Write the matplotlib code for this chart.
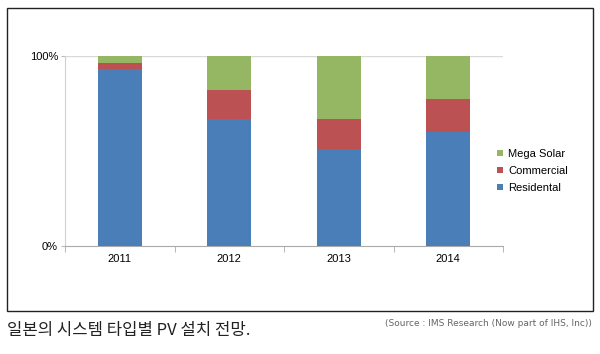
import matplotlib
matplotlib.use("Agg")
import matplotlib.pyplot as plt
from matplotlib.patches import Rectangle
import numpy as np

years = ["2011", "2012", "2013", "2014"]
residential = [93.0, 67.0, 51.0, 59.8]
commercial = [3.5, 15.0, 16.0, 17.7]
mega_solar = [3.5, 18.0, 33.0, 22.5]
series_names = ["Residental", "Commercial", "Mega Solar"]
colors = ["#4a7eb8", "#bb5152", "#95b763"]

fig = plt.figure(figsize=(6.0, 3.54), dpi=100)
W, H = 600, 354

# outer frame
fig.patches.append(Rectangle((7 / W, 1 - 311 / H), 586 / W, (311 - 8) / H,
                             transform=fig.transFigure, fill=False,
                             edgecolor="#222222", linewidth=1.0))

ax = fig.add_axes([65 / W, 1 - 246 / H, (503 - 65) / W, (246 - 56) / H])
x = np.arange(len(years))
bottom = np.zeros(len(years))
handles = []
for vals, name, c in zip([residential, commercial, mega_solar], series_names, colors):
    b = ax.bar(x, vals, width=0.4, bottom=bottom, color=c, label=name, zorder=3)
    handles.append(b)
    bottom += np.array(vals)

ax.set_xlim(-0.5, len(years) - 0.5)
ax.set_ylim(0, 100)
ax.set_yticks([0, 100])
ax.set_yticklabels(["0%", "100%"], fontsize=8, family="Liberation Sans")
ax.set_xticks(x)
ax.set_xticklabels(years, fontsize=8, family="Liberation Sans")
ax.tick_params(axis="x", length=0, pad=6)
ax.tick_params(axis="y", length=3, color="#bbbbbb", pad=2)
ax.set_xticks(np.arange(len(years) + 1) - 0.5, minor=True)
ax.tick_params(axis="x", which="minor", length=4, color="#aaaaaa")
ax.axhline(100, color="#d9d9d9", linewidth=1.0, zorder=1)
for s in ["top", "right"]:
    ax.spines[s].set_visible(False)
ax.spines["left"].set_color("#d0d0d0")
ax.spines["bottom"].set_color("#aaaaaa")

leg = fig.legend(handles[::-1], series_names[::-1], loc="upper left",
                 bbox_to_anchor=(487 / W, 1 - 139 / H), frameon=False,
                 prop={"family": "Liberation Sans", "size": 8},
                 handlelength=0.5, handleheight=0.5, handletextpad=0.5,
                 labelspacing=0.62)

fig.text(7 / W, 1 - 330 / H, "일본의 시스템 타입별 PV 설치 전망.",
         family=["Noto Sans CJK KR", "DejaVu Sans"], fontsize=12,
         va="center", ha="left", color="#222222")
fig.text(592 / W, 1 - 324 / H, "(Source : IMS Research (Now part of IHS, Inc))",
         family="Liberation Sans Narrow", fontsize=6.5, va="center", ha="right",
         color="#666666")

fig.savefig("out.png", dpi=100)
